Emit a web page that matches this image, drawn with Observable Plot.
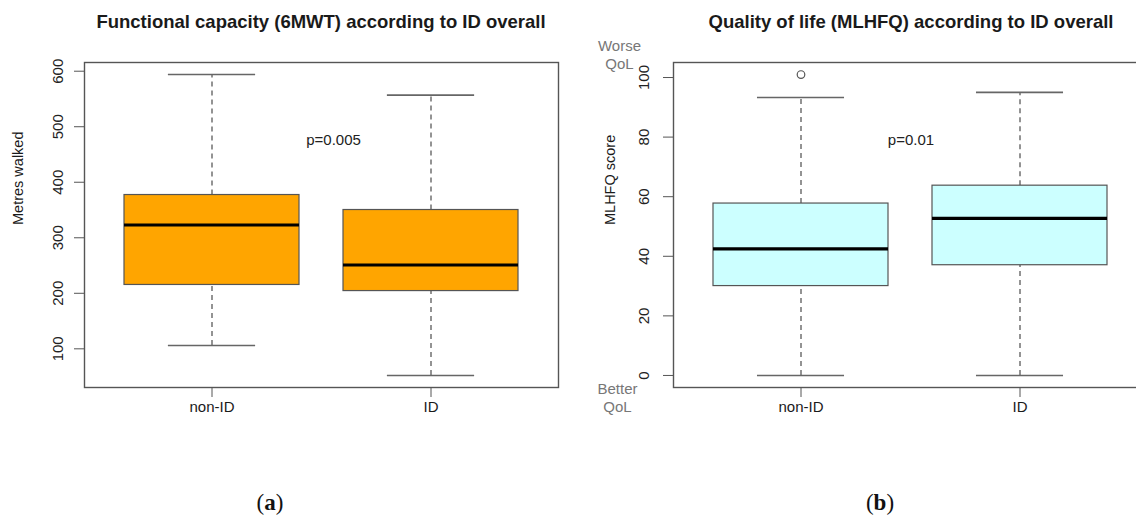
<!DOCTYPE html>
<html>
<head>
<meta charset="utf-8">
<script src="https://cdn.jsdelivr.net/npm/d3@7"></script>
<script src="https://cdn.jsdelivr.net/npm/@observablehq/plot@0.6"></script>
<style>
  html, body { margin: 0; padding: 0; background: #fff; }
  #root { position: relative; width: 1136px; height: 516px; overflow: hidden; background: #fff;
          font-family: "Liberation Sans", Arial, Helvetica, sans-serif; }
  .abs { position: absolute; white-space: nowrap; transform: translateX(-50%); line-height: 20px; }
  .title { font-weight: bold; font-size: 18.5px; color: #1a1a1a; }
  .cap { font-family: "Liberation Serif", "DejaVu Serif", serif; font-size: 23px; color: #111; line-height: 28px; }
  .panel { position: absolute; top: 0; }
</style>
</head>
<body>
<div id="root"></div>
<script>
// ---- data ----
const groups = ["non-ID", "ID"];

// (a) Functional capacity, 6-minute walk test (metres)
const mwtLower  = [106, 52];
const mwtQ1     = [215, 204];
const mwtMedian = [323, 251];
const mwtQ3     = [377, 350];
const mwtUpper  = [594, 557];
const mwtOutliers = [];
const mwtTicks = [100, 200, 300, 400, 500, 600];

// (b) Quality of life, MLHFQ score
const qolLower  = [0, 0];
const qolQ1     = [30, 37];
const qolMedian = [42.5, 52.7];
const qolQ3     = [57.7, 63.7];
const qolUpper  = [93.3, 95];
const qolOutlierGroups = ["non-ID"];
const qolOutlierValues = [101];
const qolTicks = [0, 20, 40, 60, 80, 100];

const titles = ["Functional capacity (6MWT) according to ID overall",
                "Quality of life (MLHFQ) according to ID overall"];
const yLabels = ["Metres walked", "MLHFQ score"];
const pTexts = ["p=0.005", "p=0.01"];
const captions = ["a", "b"];
const qolHigh = "Worse\nQoL";
const qolLow = "Better\nQoL";

// ---- build tables ----
function rowsOf(lower, q1, median, q3, upper) {
  return groups.map((g, i) => ({group: g, lower: lower[i], q1: q1[i], median: median[i], q3: q3[i], upper: upper[i]}));
}
const mwtRows = rowsOf(mwtLower, mwtQ1, mwtMedian, mwtQ3, mwtUpper);
const qolRows = rowsOf(qolLower, qolQ1, qolMedian, qolQ3, qolUpper);
const qolOutliers = qolOutlierGroups.map((g, i) => ({group: g, value: qolOutlierValues[i]}));
const mwtOut = mwtOutliers.map(d => d);

// R-style 4% padded domain
function rDomain(rows, outs) {
  const vals = rows.flatMap(d => [d.lower, d.upper]).concat(outs.map(d => d.value));
  const [lo, hi] = d3.extent(vals);
  const e = (hi - lo) * 0.04;
  return [lo - e, hi + e];
}

const FONT = "'Liberation Sans', Arial, Helvetica, sans-serif";

function boxPanel({rows, outliers, ticks, fill, yLabel, pText, pDx, width, marginLeft, marginRight,
                   tickPadding, yLabelDx, extraMarks = []}) {
  const frameW = width - marginLeft - marginRight;
  const step = frameW / 2.16;
  const stapleInset = step * 0.2;
  return Plot.plot({
    width, height: 430,
    marginLeft, marginRight, marginTop: 62, marginBottom: 43,
    style: {fontFamily: FONT, fontSize: "14px", color: "#222", background: "#fff", overflow: "visible"},
    x: {type: "band", domain: groups, paddingInner: 0.2, paddingOuter: 0.18, label: null},
    y: {domain: rDomain(rows, outliers), label: null},
    marks: [
      Plot.ruleX(rows, {x: "group", y1: "q3", y2: "upper", stroke: "#666", strokeWidth: 1.4, strokeDasharray: "5,4"}),
      Plot.ruleX(rows, {x: "group", y1: "lower", y2: "q1", stroke: "#666", strokeWidth: 1.4, strokeDasharray: "5,4"}),
      Plot.tickY(rows, {x: "group", y: "upper", stroke: "#666", strokeWidth: 1.6, insetLeft: stapleInset, insetRight: stapleInset}),
      Plot.tickY(rows, {x: "group", y: "lower", stroke: "#666", strokeWidth: 1.6, insetLeft: stapleInset, insetRight: stapleInset}),
      Plot.barY(rows, {x: "group", y1: "q1", y2: "q3", fill, stroke: "#555", strokeWidth: 1.2}),
      Plot.tickY(rows, {x: "group", y: "median", stroke: "#000", strokeWidth: 3.2}),
      Plot.dot(outliers, {x: "group", y: "value", r: 3.8, stroke: "#555", strokeWidth: 1.2, fill: "none"}),
      Plot.frame({stroke: "#555", strokeWidth: 1.4}),
      Plot.axisY({ticks, tickSize: 10, tickPadding, tickRotate: -90, textAnchor: "middle", lineAnchor: "bottom",
                  stroke: "#555", fill: "#222", fontSize: 15, label: null}),
      Plot.axisX({tickSize: 10, tickPadding: 4, stroke: "#555", fill: "#1a1a1a", fontSize: 15, label: null}),
      Plot.text([yLabel], {text: d => d, frameAnchor: "left", rotate: -90, dx: yLabelDx, fontSize: 14.5, fill: "#1a1a1a"}),
      Plot.text([pText], {text: d => d, frameAnchor: "top", dx: pDx, dy: 72, fontSize: 15, fill: "#222"}),
      ...extraMarks
    ]
  });
}

const root = document.getElementById("root");

// Panel (a)
const a = boxPanel({rows: mwtRows, outliers: mwtOut, ticks: mwtTicks, fill: "#FFA500",
  yLabel: yLabels[0], pText: pTexts[0], pDx: 12, width: 568, marginLeft: 84, marginRight: 10,
  tickPadding: 12, yLabelDx: -66});
a.classList.add("panel"); a.style.left = "0px";
root.appendChild(a);

// Panel (b)
const b = boxPanel({rows: qolRows, outliers: qolOutliers, ticks: qolTicks, fill: "#CCFFFF",
  yLabel: yLabels[1], pText: pTexts[1], pDx: 0, width: 590, marginLeft: 105, marginRight: 10,
  tickPadding: 15, yLabelDx: -63,
  extraMarks: [
    Plot.text([qolHigh], {text: d => d, frameAnchor: "top-left", dx: -54, dy: -8, textAnchor: "middle", lineAnchor: "middle", lineHeight: 1.2, fontSize: 15, fill: "#777"}),
    Plot.text([qolLow], {text: d => d, frameAnchor: "bottom-left", dx: -56, dy: 10, textAnchor: "middle", lineAnchor: "middle", lineHeight: 1.2, fontSize: 15, fill: "#777"})
  ]});
b.classList.add("panel"); b.style.left = "568px";
root.appendChild(b);

// Titles and captions
function addText(cls, html, cx, top) {
  const d = document.createElement("div");
  d.className = "abs " + cls;
  d.innerHTML = html;
  d.style.left = cx + "px";
  d.style.top = top + "px";
  root.appendChild(d);
}
addText("title", titles[0], 321, 12);
addText("title", titles[1], 911, 12);
addText("cap", "(<b>" + captions[0] + "</b>)", 270, 489);
addText("cap", "(<b>" + captions[1] + "</b>)", 880, 489);
</script>
</body>
</html>
